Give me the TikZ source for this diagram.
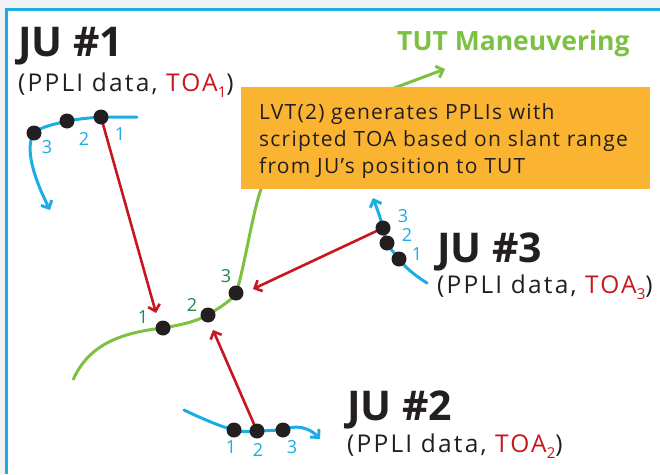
\documentclass[tikz,border=0pt]{standalone}
\usepackage{fontspec}
\setmainfont{Open Sans}
\usetikzlibrary{arrows.meta}
\definecolor{jublue}{HTML}{1BADE4}
\definecolor{jured}{HTML}{C8161E}
\definecolor{tutgreen}{HTML}{7DC142}
\definecolor{numgreen}{HTML}{1B8A4B}
\definecolor{boxorange}{HTML}{FBB432}
\definecolor{dotblack}{HTML}{231F20}
\definecolor{bggrey}{HTML}{F0F2F4}
\definecolor{txt}{HTML}{231F20}
\tikzset{
  dot/.style={circle, fill=dotblack, inner sep=0pt, minimum size=15pt},
  track/.style={jublue, line width=3pt, line cap=round},
  tut/.style={tutgreen, line width=3pt},
  ray/.style={jured, line width=2.6pt, -{Straight Barb[length=6pt,width=12pt]}},
  barb/.style={-{Straight Barb[length=6pt,width=12pt]}},
  bnum/.style={jublue, font=\fontsize{18}{18}\selectfont, inner sep=0pt},
  gnum/.style={numgreen, font=\fontsize{18}{18}\selectfont, inner sep=0pt},
  title/.style={txt, font=\fontsize{41}{41}\selectfont\bfseries, anchor=base west, inner sep=0pt},
  sub/.style={txt, font=\fontsize{24.5}{24.5}\selectfont\addfontfeatures{LetterSpace=9}, anchor=base west, inner sep=0pt},
}
\newcommand{\toa}[1]{\textcolor{jured}{TOA\raisebox{-0.25em}{\fontsize{15}{15}\selectfont #1}}}
\begin{document}
\begin{tikzpicture}[x=1pt,y=-1pt]
\useasboundingbox (0,0) rectangle (660,474);
\fill[bggrey] (0,0) rectangle (660,474);
\fill[white] (6,9) rectangle (660,474);
\draw[jublue, line width=3pt] (6,474) -- (6,9) -- (660,9);

% positions
\coordinate (p1a) at (101,117);
\coordinate (p1b) at (67,121);
\coordinate (p1c) at (34,133);
\coordinate (p2a) at (234,430);
\coordinate (p2b) at (257,431);
\coordinate (p2c) at (283,430);
\coordinate (p3a) at (399,259);
\coordinate (p3b) at (387,243);
\coordinate (p3c) at (383,228);
\coordinate (g1) at (163,328);
\coordinate (g2) at (208,315);
\coordinate (g3) at (236,293);
\coordinate (t1) at (156,313);
\coordinate (t2) at (213,330);
\coordinate (t3) at (253,289);

% green TUT track
\coordinate (gs) at (73,380);
\coordinate (gm) at (261,189);
\coordinate (gn) at (397,87);
\coordinate (ge) at (445,69);
\draw[tut, barb] (gs) .. controls (88,346) and (118,333) .. (g1)
  .. controls (180,325) and (195,322) .. (g2)
  .. controls (222,306) and (232,300) .. (g3)
  .. controls (244,270) and (252,215) .. (gm)
  .. controls (272,140) and (330,110) .. (gn) -- (ge);

% orange box
\node[fill=boxorange, anchor=north west, minimum width=409pt, minimum height=102pt, inner sep=0pt] (box) at (241,87) {};
\node[txt, anchor=base west, inner sep=0pt, align=left, font=\fontsize{21}{27}\selectfont\addfontfeatures{LetterSpace=6}] (boxtxt) at (259,173)
  {LVT(2) generates PPLIs with\\scripted TOA based on slant range\\from JU’s position to TUT};

% JU1 track
\coordinate (s1) at (137,117);
\coordinate (e1) at (50,210);
\draw[track, barb] (s1) .. controls (125,117) and (112,117) .. (p1a)
  .. controls (88,118) and (78,119) .. (p1b)
  .. controls (55,124) and (40,127) .. (p1c)
  .. controls (26,145) and (30,170) .. (e1);
% JU2 track
\coordinate (s2) at (184,410);
\coordinate (e2) at (320,439);
\draw[track, barb] (s2) .. controls (205,420) and (222,427) .. (p2a)
  .. controls (242,432) and (250,432) .. (p2b)
  .. controls (266,431) and (274,430) .. (p2c)
  .. controls (296,424) and (310,428) .. (e2);
% JU3 track
\coordinate (s3) at (427,283);
\coordinate (e3) at (373,198);
\draw[track, barb] (s3) .. controls (414,275) and (405,267) .. (p3a)
  .. controls (394,252) and (389,248) .. (p3b)
  .. controls (385,238) and (384,233) .. (p3c)
  .. controls (380,216) and (376,206) .. (e3);

% red rays
\draw[ray] (p1a) -- (t1);
\draw[ray] (p2b) -- (t2);
\draw[ray] (p3c) -- (t3);

% dots
\node[dot] (j1a) at (p1a) {};
\node[dot] (j1b) at (p1b) {};
\node[dot] (j1c) at (p1c) {};
\node[dot] (j2a) at (p2a) {};
\node[dot] (j2b) at (p2b) {};
\node[dot] (j2c) at (p2c) {};
\node[dot] (j3a) at (p3a) {};
\node[dot] (j3b) at (p3b) {};
\node[dot] (j3c) at (p3c) {};
\node[dot] (tg1) at (g1) {};
\node[dot] (tg2) at (g2) {};
\node[dot] (tg3) at (g3) {};

% numbers
\node[bnum] (n1a) at (120,134) {1};
\node[bnum] (n1b) at (84,139) {2};
\node[bnum] (n1c) at (47,147) {3};
\node[bnum] (n2a) at (231,447) {1};
\node[bnum] (n2b) at (258,450) {2};
\node[bnum] (n2c) at (292,447) {3};
\node[bnum] (n3a) at (417,254) {1};
\node[bnum] (n3b) at (407,235) {2};
\node[bnum] (n3c) at (403,216) {3};
\node[gnum] (ng1) at (143,317) {1};
\node[gnum] (ng2) at (192,305) {2};
\node[gnum] (ng3) at (226,276) {3};

% titles
\node[title] (ju1) at (18,56) {JU \#1};
\node[sub] (ju1s) at (18,91) {(PPLI data, \toa{1})};
\node[title] (ju2) at (347,420) {JU \#2};
\node[sub] (ju2s) at (347,452) {(PPLI data, \toa{2})};
\node[title] (ju3) at (437,262) {JU \#3};
\node[sub] (ju3s) at (437,293) {(PPLI data, \toa{3})};
\node[tutgreen, font=\fontsize{26.5}{26.5}\selectfont\bfseries, anchor=base west, inner sep=0pt] (tutlbl) at (397,50) {TUT Maneuvering};
\end{tikzpicture}
\end{document}
